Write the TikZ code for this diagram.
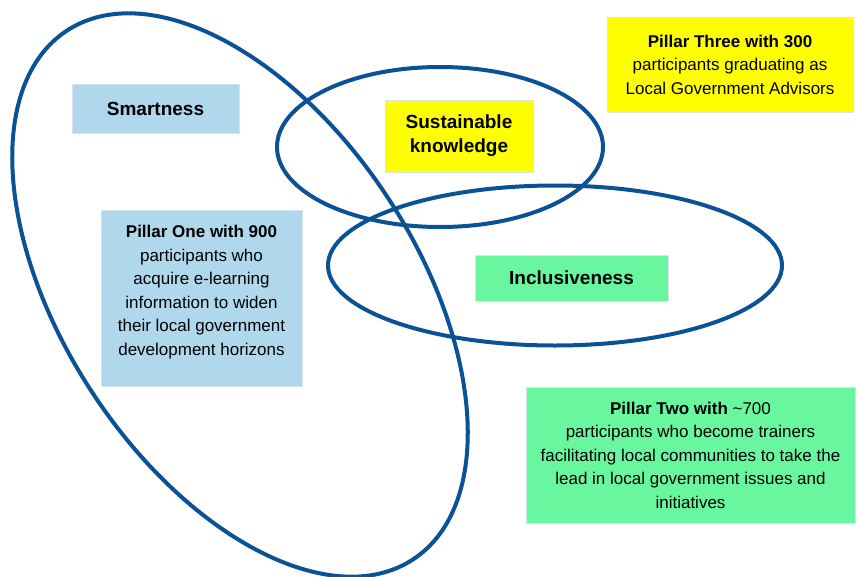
\documentclass[tikz,border=0pt]{standalone}
\usepackage{fontspec}
\setmainfont{Liberation Sans}
\definecolor{ringblue}{HTML}{0B5196}
\definecolor{smartblue}{HTML}{B0D8EC}
\definecolor{knowyellow}{HTML}{FFFF00}
\definecolor{inclgreen}{HTML}{68F79F}
\definecolor{boxedge}{HTML}{D8E4F2}
\tikzset{
    ring/.style={draw=ringblue, line width=4pt},
    theme/.style={draw=boxedge, line width=1pt, inner sep=0pt, align=center,
        font=\fontsize{19}{24}\selectfont\bfseries},
    pillar/.style={draw=boxedge, line width=1pt, inner sep=0pt, align=center,
        font=\fontsize{17}{23.5}\selectfont}
}
\begin{document}
\begin{tikzpicture}[x=1pt, y=-1pt]
    \useasboundingbox (0,0) rectangle (856,576);   % page size

    \draw [ring, rotate around={-56.8:(240,295)}] (240,295)   % smartness ring
        ellipse [x radius=316, y radius=177];
    \draw [ring] (440,147) ellipse [x radius=163, y radius=80];   % knowledge ring
    \draw [ring] (555,265.5) ellipse [x radius=227, y radius=80]; % inclusiveness ring

    \node [theme, fill=smartblue, minimum width=167, minimum height=49]
        (smart) at (155.5,108.5) {Smartness};
    \node [theme, fill=knowyellow, minimum width=148, minimum height=72]
        (know) at (459,136) {Sustainable\\knowledge};
    \node [theme, fill=inclgreen, minimum width=193, minimum height=46]
        (incl) at (571.5,278) {Inclusiveness};

    \node [pillar, fill=knowyellow, minimum width=246, minimum height=95]
        (three) at (730,64.5) {\textbf{Pillar Three with 300}\\participants graduating as\\Local Government Advisors};
    \node [pillar, fill=smartblue, minimum width=201, minimum height=176]
        (one) at (201.5,298) {\textbf{Pillar One with 900}\\participants who\\acquire e-learning\\information to widen\\their local government\\development horizons\\[-8pt]};
    \node [pillar, fill=inclgreen, minimum width=329, minimum height=136]
        (two) at (690.5,455) {\textbf{Pillar Two with} \textasciitilde700\\participants who become trainers\\facilitating local communities to take the\\lead in local government issues and\\initiatives};
\end{tikzpicture}
\end{document}
